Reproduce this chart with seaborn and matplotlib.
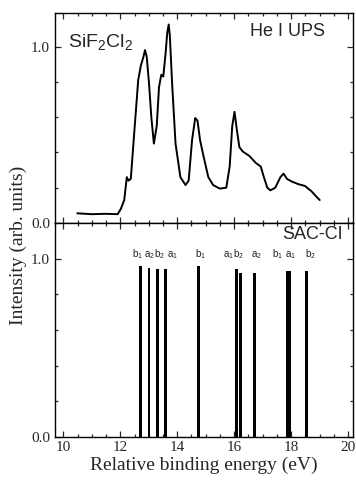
import numpy as np
import matplotlib
matplotlib.use("Agg")
import matplotlib.pyplot as plt
import seaborn as sns
from matplotlib.ticker import MultipleLocator

# He I UPS spectrum
ups_energy = [10.49, 11.0, 11.5, 11.91, 12.02, 12.14, 12.23, 12.29, 12.37, 12.49, 12.63,
              12.72, 12.81, 12.87, 12.93, 13.01, 13.09, 13.18, 13.28, 13.36, 13.44,
              13.51, 13.59, 13.65, 13.70, 13.74, 13.82, 13.94, 14.11, 14.29, 14.40,
              14.52, 14.63, 14.71, 14.80, 14.92, 15.09, 15.26, 15.49, 15.72, 15.84,
              15.93, 16.01, 16.09, 16.18, 16.30, 16.53, 16.76, 16.93, 17.04, 17.16,
              17.27, 17.44, 17.62, 17.73, 17.85, 18.02, 18.25, 18.48, 18.71, 18.88, 19.0]
ups_intensity = [0.055, 0.05, 0.052, 0.05, 0.08, 0.13, 0.26, 0.24, 0.25, 0.51, 0.81,
                 0.89, 0.94, 0.98, 0.94, 0.79, 0.60, 0.45, 0.55, 0.77, 0.84,
                 0.83, 0.96, 1.08, 1.125, 1.06, 0.79, 0.45, 0.26, 0.215, 0.24,
                 0.47, 0.595, 0.58, 0.47, 0.38, 0.26, 0.215, 0.195, 0.20, 0.32,
                 0.55, 0.63, 0.53, 0.43, 0.405, 0.38, 0.34, 0.32, 0.26, 0.20,
                 0.185, 0.20, 0.26, 0.28, 0.25, 0.235, 0.22, 0.21, 0.18, 0.15, 0.13]

# SAC-CI states
sac_energy = [12.70, 13.01, 13.32, 13.60, 14.75, 16.08, 16.22, 16.72, 17.85, 17.95, 18.53]
sac_intensity = [0.96, 0.95, 0.94, 0.94, 0.96, 0.94, 0.92, 0.92, 0.93, 0.93, 0.93]
sac_labels = ["b", "a", "b", "a", "b", "a", "b", "a", "b", "a", "b"]
sac_subs = ["1", "2", "2", "1", "1", "1", "2", "2", "1", "1", "2"]

# where each label sits relative to its bar (eV), so crowded labels don't pile up
label_dx = [-0.2, -0.08, -0.04, 0.14, -0.02, -0.38, -0.17, -0.03, -0.42, -0.06, 0.06]

sns.set_style("ticks")
plt.rcParams['font.family'] = ['Liberation Serif', 'DejaVu Serif']
plt.rcParams['mathtext.fontset'] = 'custom'
plt.rcParams['mathtext.rm'] = 'Liberation Sans'

fig = plt.figure(figsize=(3.56, 4.84), dpi=100)
left, right = 55 / 356, 352.5 / 356
ax1 = fig.add_axes([left, 1 - 223 / 484, right - left, 210 / 484])
ax2 = fig.add_axes([left, 1 - 437 / 484, right - left, 214 / 484])

sns.lineplot(x=ups_energy, y=ups_intensity, ax=ax1, color="black", linewidth=1.4)
ax1.set_ylim(0, 1.19)

ax2.bar(sac_energy, sac_intensity, width=0.1, color="black", linewidth=0)
ax2.set_ylim(0, 1.2)

for e, dx, l, s in zip(sac_energy, label_dx, sac_labels, sac_subs):
    ax2.text(e + dx - 0.1, 0.985, l + "$_{" + s + "}$", ha="left", va="bottom",
             fontsize=7, family="Liberation Sans", color="#222222")

for ax in (ax1, ax2):
    ax.set_xlim(9.71, 20.15)
    ax.xaxis.set_major_locator(MultipleLocator(2))
    ax.xaxis.set_minor_locator(MultipleLocator(0.5))
    ax.yaxis.set_major_locator(MultipleLocator(1.0))
    ax.yaxis.set_minor_locator(MultipleLocator(0.2))
    ax.yaxis.set_major_formatter(matplotlib.ticker.FormatStrFormatter("%.1f"))
    ax.tick_params(which="both", direction="in", top=True, right=True,
                   labelsize=11, width=0.9)
    ax.tick_params(which="major", length=4)
    ax.tick_params(which="minor", length=2.5)
    for sp in ax.spines.values():
        sp.set_linewidth(1.0)
        sp.set_color("black")
    ax.set_xlabel("")
    ax.set_ylabel("")

ax1.tick_params(axis="x", labelbottom=False)
ax2.tick_params(axis="x", pad=3)
ax2.set_xlabel("Relative binding energy (eV)", fontsize=14, labelpad=2)

ax1.text(0.044, 0.86, "SiF$_2$Cl$_2$", transform=ax1.transAxes, fontsize=14,
         family="Liberation Sans", ha="left", va="center")
ax1.text(0.908, 0.91, "He I UPS", transform=ax1.transAxes, fontsize=13,
         family="Liberation Sans", ha="right", va="center")
ax2.text(0.968, 0.945, "SAC-CI", transform=ax2.transAxes, fontsize=13,
         family="Liberation Sans", ha="right", va="center")

fig.text(18 / 356, 1 - 245 / 484, "Intensity (arb. units)", rotation=90,
         ha="center", va="center", fontsize=14)

fig.savefig("out.png", dpi=100)
